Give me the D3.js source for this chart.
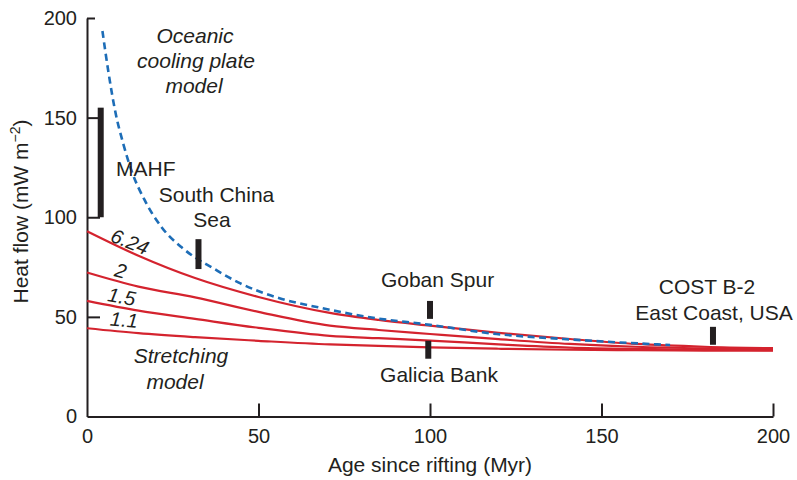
<!DOCTYPE html>
<html>
<head>
<meta charset="utf-8">
<script src="https://cdn.jsdelivr.net/npm/d3@7"></script>
<style>
  body { margin: 0; background: #fff; }
  text { font-family: "Liberation Sans", Arial, Helvetica, sans-serif; fill: #231f20; }
</style>
</head>
<body>
<div id="graph"></div>
<script>
// stretching model curves (age in Myr, heat flow in mW m-2)
const redAges  = [0, 15, 31.5, 50, 70.8, 85, 100, 120, 140.8, 160, 180, 200];
const beta624  = [93, 80.7, 69.5, 60, 52, 48.5, 45.6, 42, 38.9, 36.4, 35, 34.3];
const beta2    = [72.3, 65.2, 59.8, 52.5, 45.6, 43.4, 41.4, 38.8, 36.4, 35, 34.2, 33.8];
const beta15   = [58, 53.1, 49, 44.5, 40.5, 39.3, 38.1, 36.2, 34.6, 33.9, 33.5, 33.3];
const beta11   = [44.3, 41.8, 39.8, 38, 36.2, 35.4, 34.7, 34, 33.5, 33.3, 33.1, 33];
const betaLabels = ["6.24", "2", "1.5", "1.1"];

// oceanic cooling plate model
const plateAges = [4.5, 6.2, 8.2, 10.6, 13, 16.9, 21.8, 27.6, 31.5, 36.4, 44.1, 56.8, 67.4, 82.5, 100, 119.4, 138.9, 155, 170];
const plateFlow = [193.5, 173.4, 153.4, 136.7, 123.3, 108.3, 94.9, 84.9, 79.8, 74.8, 67.3, 59, 54.8, 49.8, 46, 41.4, 38.9, 37.2, 35.9];

// measured sites: age, low, high
const siteNames = ["MAHF", "South China Sea", "Goban Spur", "Galicia Bank", "COST B-2"];
const siteAges  = [4, 32.5, 100, 99.5, 182.5];
const siteLow   = [100, 74, 49, 29, 36];
const siteHigh  = [155, 89, 58, 38, 45];

const xTicks = [0, 50, 100, 150, 200];
const yTicks = [0, 50, 100, 150, 200];

let width = 797, height = 480;

let svg = d3.select("#graph")
    .append("svg")
    .attr("width", width)
    .attr("height", height);

let x = d3.scaleLinear().domain([0, 200]).range([87, 773]);
let y = d3.scaleLinear().domain([0, 200]).range([416.5, 18]);

// axes, ticks pointing inward
let xAxis = svg.append("g")
    .attr("transform", `translate(0,${y(0)})`)
    .call(d3.axisBottom(x).tickValues(xTicks).tickSizeInner(-13).tickSizeOuter(0).tickPadding(12));

let yAxis = svg.append("g")
    .attr("transform", `translate(${x(0)},0)`)
    .call(d3.axisLeft(y).tickValues(yTicks).tickSizeInner(-13).tickSizeOuter(0).tickPadding(10));

[xAxis, yAxis].forEach(g => {
    g.select(".domain").attr("stroke", "#231f20").attr("stroke-width", 2);
    g.selectAll(".tick line").attr("stroke", "#231f20").attr("stroke-width", 2);
    g.selectAll(".tick text").style("font-size", "20px").attr("fill", "#231f20");
});
yAxis.selectAll(".tick").filter(d => d === 200).select("line").attr("x2", 8);
xAxis.selectAll(".tick").filter(d => d === 0).select("line").remove();
yAxis.selectAll(".tick").filter(d => d === 0).select("line").remove();

// axis titles
svg.append("text")
    .attr("x", 430)
    .attr("y", 472)
    .style("text-anchor", "middle")
    .style("font-size", "21px")
    .text("Age since rifting (Myr)");

let yLabel = svg.append("text")
    .attr("transform", `translate(28,${211.5}) rotate(-90)`)
    .style("text-anchor", "middle")
    .style("font-size", "21px");
yLabel.append("tspan").text("Heat flow (mW m");
yLabel.append("tspan").attr("dy", -8).style("font-size", "14px").text("\u22122");
yLabel.append("tspan").attr("dy", 8).text(")");

// stretching model lines
let line = d3.line()
    .x(d => x(d[0]))
    .y(d => y(d[1]))
    .curve(d3.curveMonotoneX);

let redSeries = [beta624, beta2, beta15, beta11];
svg.append("g").selectAll("path")
    .data(redSeries)
    .enter()
    .append("path")
    .attr("d", s => line(redAges.map((a, i) => [a, s[i]])))
    .attr("fill", "none")
    .attr("stroke", "#d4232e")
    .attr("stroke-width", 2.2);

// oceanic plate model (dashed)
svg.append("path")
    .attr("d", line(plateAges.map((a, i) => [a, plateFlow[i]])))
    .attr("fill", "none")
    .attr("stroke", "#1d6db7")
    .attr("stroke-width", 2.6)
    .attr("stroke-dasharray", "7,4.5");

// site bars
svg.append("g").selectAll("rect")
    .data(siteNames)
    .enter()
    .append("rect")
    .attr("x", (d, i) => x(siteAges[i]) - 3)
    .attr("y", (d, i) => y(siteHigh[i]))
    .attr("width", 6)
    .attr("height", (d, i) => y(siteLow[i]) - y(siteHigh[i]))
    .attr("fill", "#231f20");

// beta labels along lines
let betaPos = [[12.5, 87.7, 22], [9.8, 73.2, 15], [10.1, 60.2, 10], [10.8, 48.6, 5]];
svg.append("g").selectAll("text")
    .data(betaLabels)
    .enter()
    .append("text")
    .attr("transform", (d, i) => `translate(${x(betaPos[i][0])},${y(betaPos[i][1])}) rotate(${betaPos[i][2]})`)
    .attr("dy", "0.35em")
    .style("text-anchor", "middle")
    .style("font-size", "20px")
    .style("font-style", "italic")
    .text(d => d);

// annotations
function label(txt, px, py, anchor, italic) {
    svg.append("text")
        .attr("x", px)
        .attr("y", py)
        .style("text-anchor", anchor)
        .style("font-size", "21px")
        .style("font-style", italic ? "italic" : "normal")
        .text(txt);
}
label("Oceanic", 195, 43, "middle", true);
label("cooling plate", 196, 68, "middle", true);
label("model", 194, 93, "middle", true);
label("MAHF", 116, 176, "start", false);
label("South China", 216.5, 202, "middle", false);
label("Sea", 212, 227, "middle", false);
label("Goban Spur", 437.5, 287, "middle", false);
label("Galicia Bank", 439, 382, "middle", false);
label("COST B-2", 707, 294, "middle", false);
label("East Coast, USA", 714, 320, "middle", false);
label("Stretching", 181, 363, "middle", true);
label("model", 175, 389, "middle", true);
</script>
</body>
</html>
